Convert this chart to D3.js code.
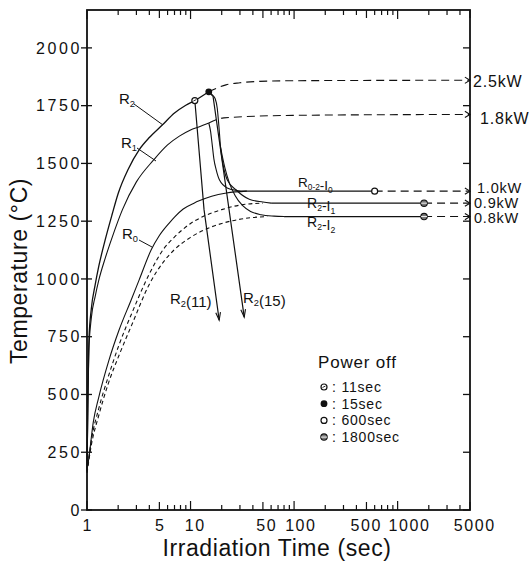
<!DOCTYPE html>
<html><head><meta charset="utf-8">
<script src="https://cdn.jsdelivr.net/npm/d3@7"></script>
<style>
body{margin:0;background:#fff}
svg{display:block}
text{font-family:"Liberation Sans",Arial,sans-serif;fill:#111}
</style>
</head><body>
<svg id="c" width="530" height="561"></svg>
<script>
// ---------------- data ----------------
const yTicks = [0,250,500,750,1000,1250,1500,1750,2000];
const xTickLabels = [1,5,10,50,100,500,1000,5000];

// heating curves (sec, °C)
const r2Heat = [[1,180],[1.02,480],[1.045,740],[1.1,870],[1.2,975],[1.3,1055],[1.5,1170],[1.75,1280],[2,1370],[2.5,1475],[3.2,1560],[4,1612],[5.3,1665],[7,1718],[9,1752],[11,1772],[15,1810]];
const r1Heat = [[1,170],[1.02,440],[1.045,700],[1.1,830],[1.2,925],[1.3,995],[1.5,1090],[1.75,1180],[2.2,1300],[3,1420],[4.4,1515],[6,1580],[7.8,1618],[10,1645],[12,1658],[15,1675]];
const r0Heat = [[1,173],[1.045,229],[1.15,380],[1.3,489],[1.63,649],[2.04,779],[2.67,909],[3.19,996],[4.16,1125],[5,1188],[6.22,1242],[7,1268],[8.5,1303],[10.9,1329],[12.1,1338],[16,1358],[22.2,1372],[35,1380]];
const d09Heat = [[1,165],[1.1,300],[1.3,440],[1.6,575],[2.04,715],[2.7,850],[3.98,1020],[5.5,1130],[6.95,1180],[10,1240],[13.5,1272],[20,1300],[26.5,1315],[35,1324],[50,1328]];
const d08Heat = [[1,160],[1.1,280],[1.3,410],[1.6,545],[2.04,670],[2.7,800],[3.98,975],[5.5,1075],[6.95,1126],[10,1180],[13.5,1212],[20,1240],[29.6,1258],[40,1266],[55,1270]];

// after power change
const r1ToI0 = [[15,1675],[15.6,1640],[16.2,1580],[16.8,1520],[17.7,1472],[19,1429],[22.6,1394],[28,1383],[35,1380]];
const r2ToI1 = [[15,1810],[16.2,1797],[17.3,1780],[18.1,1740],[18.8,1660],[19.5,1570],[20.5,1500],[22.6,1429],[27.6,1385],[36.9,1345],[50,1333],[60,1328]];
const r2ToI2 = [[19.5,1570],[20.3,1530],[21.5,1480],[23.7,1416],[27,1360],[31.7,1318],[38,1292],[48,1278],[64,1272],[80,1270]];
const i0Solid = [[35,1380],[600,1380]];
const i1Solid = [[60,1328],[1800,1328]];
const i2Solid = [[80,1270],[1800,1270]];

// continued power (dashed, to 5000 s)
const kw25 = [[15,1810],[18,1826],[22,1840],[30,1849],[46,1855],[100,1858],[5000,1860]];
const kw18 = [[15,1675],[21,1697],[97,1708],[5000,1712]];
const kw10 = [[600,1380],[5000,1380]];
const kw09 = [[1800,1328],[5000,1328]];
const kw08 = [[1800,1270],[5000,1270]];
const kwLabels = ["2.5kW","1.8kW","1.0kW","0.9kW","0.8kW"];

// power off cooling
const r2Off11 = [[11,1772],[13.5,1300],[18.9,822]];
const r2Off15 = [[15,1810],[16.5,1790],[33,835]];

// power-off markers
const off11 = [11,1772];
const off15 = [15,1810];
const off600 = [600,1380];
const off1800 = [[1800,1328],[1800,1270]];
const legendItems = ["11sec","15sec","600sec","1800sec"];

// ---------------- drawing ----------------
const svg = d3.select("#c");
const x = d3.scaleLog().domain([1,5000]).range([87,470]);
const y = d3.scaleLinear().domain([0,2164]).range([510,10]);
const L = 87, R = 470, T = 10, B = 510;

const smooth = d3.line().x(d=>x(d[0])).y(d=>y(d[1])).curve(d3.curveMonotoneX);
const straight = d3.line().x(d=>x(d[0])).y(d=>y(d[1]));

function path(data, gen, opts={}) {
  return svg.append("path").attr("d", gen(data)).attr("fill","none")
    .attr("stroke","#111").attr("stroke-width", opts.w||1.2)
    .attr("stroke-dasharray", opts.dash||null).attr("stroke-linecap","butt");
}
function chevron(px,py,ang,len=7,spread=0.45){
  const a1 = ang+Math.PI-spread, a2 = ang+Math.PI+spread;
  svg.append("path").attr("d",
    `M${px+len*Math.cos(a1)},${py+len*Math.sin(a1)}L${px},${py}L${px+len*Math.cos(a2)},${py+len*Math.sin(a2)}`)
    .attr("fill","none").attr("stroke","#111").attr("stroke-width",1.1);
}

// frame
svg.append("rect").attr("x",L).attr("y",T).attr("width",R-L).attr("height",B-T)
  .attr("fill","none").attr("stroke","#111").attr("stroke-width",1.8);

// y ticks + labels
yTicks.forEach(v=>{
  svg.append("line").attr("x1",L-6).attr("x2",L+5).attr("y1",y(v)).attr("y2",y(v)).attr("stroke","#111").attr("stroke-width",1.3);
  svg.append("line").attr("x1",R-7).attr("x2",R).attr("y1",y(v)).attr("y2",y(v)).attr("stroke","#111").attr("stroke-width",1.3);
  svg.append("text").attr("x",L-5).attr("y",y(v)).attr("dy","0.36em").attr("text-anchor","end")
    .attr("font-size",16).attr("letter-spacing",2.6).text(v);
});

// x log ticks (bottom & top, inward)
[1,10,100,1000].forEach(d=>{
  for(let k=1;k<=9;k++){
    const v=k*d; if(v>5000) break;
    const len = k===1?9:(k===5?8:5);
    svg.append("line").attr("x1",x(v)).attr("x2",x(v)).attr("y1",B).attr("y2",B-len).attr("stroke","#111").attr("stroke-width",1.2);
    svg.append("line").attr("x1",x(v)).attr("x2",x(v)).attr("y1",T).attr("y2",T+len).attr("stroke","#111").attr("stroke-width",1.2);
  }
});
// small label nudges as printed in the original
const xLabelNudge = [0,0,4,3,6,-1,11,4];
xTickLabels.forEach((v,i)=>{
  svg.append("text").attr("x",x(v)+0.8).attr("dx",xLabelNudge[i]).attr("y",531).attr("text-anchor","middle")
    .attr("font-size",16).attr("letter-spacing",1.6).text(v);
});

// axis titles
svg.append("text").attr("x",277).attr("y",556).attr("text-anchor","middle")
  .attr("font-size",23).attr("letter-spacing",0.6).text("Irradiation Time (sec)");
svg.append("text").attr("transform","translate(27,271) rotate(-90)").attr("text-anchor","middle")
  .attr("font-size",23).attr("letter-spacing",0.6).text("Temperature (°C)");

// curves
path(r2Heat, smooth, {w:1.3});
path(r1Heat, smooth, {w:1.1});
path(r0Heat, smooth, {w:1.1});
path(d09Heat, smooth, {w:1.1, dash:"4,3"});
path(d08Heat, smooth, {w:1.1, dash:"4,3"});
path(r1ToI0, smooth, {w:1.1});
path(r2ToI1, smooth, {w:1.1});
path(r2ToI2, smooth, {w:1.1});
path(i0Solid, straight, {w:1.2});
path(i1Solid, straight, {w:1.2});
path(i2Solid, straight, {w:1.2});

[kw25,kw18,kw10,kw09,kw08].forEach(s=>{
  path(s, smooth, {w:1.1, dash:"8,5"});
  const e = s[s.length-1];
  chevron(x(e[0]), y(e[1]), 0, 6, 0.55);
});

// power-off lines
[r2Off11, r2Off15].forEach(s=>{
  path(s, straight, {w:1.2});
  const a=s[s.length-2], b=s[s.length-1];
  const ang=Math.atan2(y(b[1])-y(a[1]), x(b[0])-x(a[0]));
  chevron(x(b[0]), y(b[1]), ang, 8, 0.3);
});

// markers
function mk(type, cx, cy){
  if(type===0){ // 11 sec
    svg.append("circle").attr("cx",cx).attr("cy",cy).attr("r",3).attr("fill","#fff").attr("stroke","#111").attr("stroke-width",1.2);
    svg.append("line").attr("x1",cx-1.5).attr("x2",cx+1.5).attr("y1",cy+0.5).attr("y2",cy-1).attr("stroke","#111").attr("stroke-width",0.9);
  } else if(type===1){
    svg.append("circle").attr("cx",cx).attr("cy",cy).attr("r",3.4).attr("fill","#111");
  } else if(type===2){
    svg.append("circle").attr("cx",cx).attr("cy",cy).attr("r",3).attr("fill","#fff").attr("stroke","#111").attr("stroke-width",1.2);
  } else {
    svg.append("circle").attr("cx",cx).attr("cy",cy).attr("r",3.2).attr("fill","#777").attr("stroke","#111").attr("stroke-width",1.1);
    svg.append("line").attr("x1",cx-3).attr("x2",cx+3).attr("y1",cy).attr("y2",cy).attr("stroke","#fff").attr("stroke-width",0.9);
  }
}
mk(0, x(off11[0]), y(off11[1]));
mk(1, x(off15[0]), y(off15[1]));
mk(2, x(off600[0]), y(off600[1]));
off1800.forEach(p=>mk(3, x(p[0]), y(p[1])));

// right labels
const kwY = [81,118,188,203,218];
const kwX = [473,480,477,474,474];
const kwFs = [16,16,14.5,14.5,14.5];
kwLabels.forEach((t,i)=>{
  svg.append("text").attr("x",kwX[i]).attr("y",kwY[i]).attr("dy","0.35em")
    .attr("font-size",kwFs[i]).attr("letter-spacing",0.8).text(t);
});

// curve labels with subscripts
function subLabel(xx, yy, parts, fs){
  const t = svg.append("text").attr("x",xx).attr("y",yy).attr("font-size",fs);
  parts.forEach(p=>{
    if(p.sub){ t.append("tspan").attr("dy",3).attr("font-size",fs*0.62).text(p.t); t.append("tspan").attr("dy",-3).text(""); }
    else t.append("tspan").text(p.t);
  });
  return t;
}
subLabel(119,104,[{t:"R"},{t:"2",sub:1}],15);
subLabel(121,148,[{t:"R"},{t:"1",sub:1}],15);
subLabel(122,239,[{t:"R"},{t:"0",sub:1}],15);
svg.append("line").attr("x1",134).attr("y1",104).attr("x2",163).attr("y2",125).attr("stroke","#111").attr("stroke-width",1);
svg.append("line").attr("x1",137).attr("y1",148).attr("x2",156).attr("y2",161).attr("stroke","#111").attr("stroke-width",1);
svg.append("line").attr("x1",139).attr("y1",240).attr("x2",152).attr("y2",247).attr("stroke","#111").attr("stroke-width",1);

subLabel(170,304,[{t:"R"},{t:"2",sub:1},{t:"(11)"}],15);
subLabel(243,303,[{t:"R"},{t:"2",sub:1},{t:"(15)"}],15);

subLabel(298,187,[{t:"R"},{t:"0-2",sub:1},{t:"-I"},{t:"0",sub:1}],13.5);
subLabel(307,208,[{t:"R"},{t:"2",sub:1},{t:"-I"},{t:"1",sub:1}],14);
subLabel(307,227,[{t:"R"},{t:"2",sub:1},{t:"-I"},{t:"2",sub:1}],14);

// legend
svg.append("text").attr("x",318).attr("y",368).attr("font-size",17).attr("letter-spacing",0.8).text("Power off");
legendItems.forEach((t,i)=>{
  const cy = 387 + i*16.7;
  mk(i, 324, cy);
  svg.append("text").attr("x",332).attr("y",cy).attr("dy","0.36em").attr("font-size",14).attr("letter-spacing",0.8).text(": "+t);
});
</script>
</body></html>
